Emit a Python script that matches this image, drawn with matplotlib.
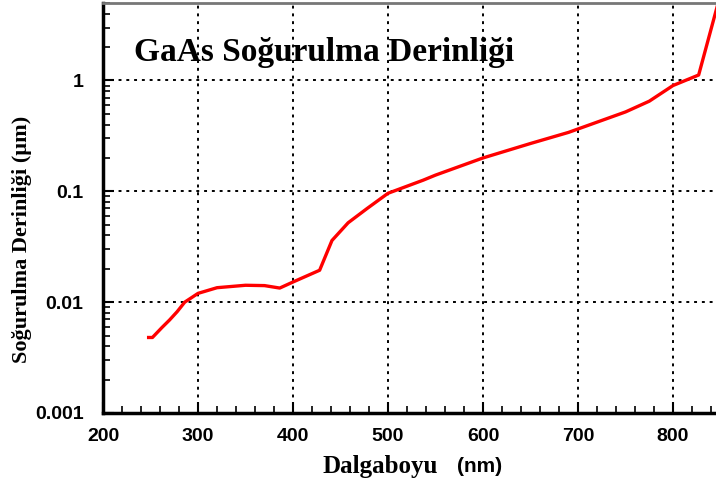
import matplotlib.pyplot as plt
from matplotlib.ticker import MultipleLocator, LogLocator, NullFormatter, FixedFormatter, FixedLocator

# GaAs absorption depth vs wavelength
wavelength = [248, 252, 262, 270, 278, 286, 300, 320, 350, 370, 386, 400,
              428, 441, 458, 478, 500, 537, 550, 600, 650, 690, 700, 750,
              775, 800, 827, 850]
depth = [0.0048, 0.0048, 0.0059, 0.0069, 0.0082, 0.0100, 0.0120, 0.0135,
         0.0142, 0.0141, 0.0134, 0.0152, 0.0194, 0.036, 0.052, 0.070,
         0.096, 0.126, 0.140, 0.200, 0.270, 0.340, 0.365, 0.52, 0.65,
         0.90, 1.12, 6.0]

x_ticks = [200, 300, 400, 500, 600, 700, 800]
y_ticks = [0.001, 0.01, 0.1, 1]
y_tick_labels = ["0.001", "0.01", "0.1", "1"]

fig = plt.figure(figsize=(7.16, 4.88), dpi=100)
ax = fig.add_axes([0.1439, 0.1537, 0.8624, 0.8402])

ax.plot(wavelength, depth, color="red", linewidth=2.4, solid_joinstyle="round")

ax.set_yscale("log")
ax.set_xlim(200, 850)
ax.set_ylim(0.001, 5)

ax.xaxis.set_major_locator(FixedLocator(x_ticks))
ax.xaxis.set_minor_locator(MultipleLocator(20))
ax.yaxis.set_major_locator(FixedLocator(y_ticks))
ax.yaxis.set_major_formatter(FixedFormatter(y_tick_labels))
ax.yaxis.set_minor_locator(LogLocator(base=10, subs=range(2, 10)))
ax.yaxis.set_minor_formatter(NullFormatter())

ax.grid(True, which="major", color="black", linestyle=(0, (1.5, 2.5)), linewidth=1.4)

ax.tick_params(which="major", direction="in", length=8, width=1.5, color="black")
ax.tick_params(which="minor", direction="in", length=5, width=1.2, color="black")
ax.tick_params(axis="x", which="both", top=False, pad=11)
ax.tick_params(axis="y", which="both", right=False, pad=14)

for lab in ax.get_xticklabels() + ax.get_yticklabels():
    lab.set_fontfamily("Liberation Sans")
    lab.set_fontweight("bold")
    lab.set_fontsize(14)

ax.spines["left"].set_linewidth(2.5)
ax.spines["bottom"].set_linewidth(2.5)
ax.spines["top"].set_color("#777777")
ax.spines["top"].set_linewidth(2)
ax.spines["right"].set_visible(False)

ax.text(0.05, 0.88, "GaAs Soğurulma Derinliği", transform=ax.transAxes,
        fontfamily="Liberation Serif", fontweight="bold", fontsize=24,
        ha="left", va="center")

fig.text(0.031, 0.51, "Soğurulma Derinliği (µm)", rotation=90,
         fontfamily="Liberation Serif", fontweight="bold", fontsize=16,
         ha="center", va="center")

fig.text(0.451, 0.045, "Dalgaboyu", fontfamily="Liberation Serif",
         fontweight="bold", fontsize=18, ha="left", va="center")
fig.text(0.638, 0.045, "(nm)", fontfamily="Liberation Sans",
         fontweight="bold", fontsize=15, ha="left", va="center")

fig.savefig("out.png", dpi=100)
